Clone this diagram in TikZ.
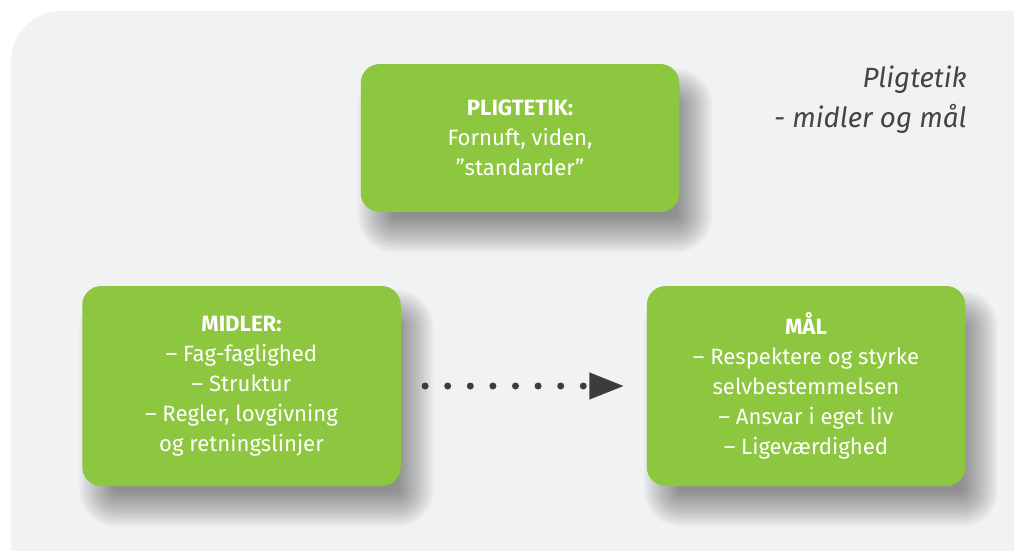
\documentclass[tikz,border=0pt]{standalone}
\usepackage{fontspec}
\setmainfont{Fira Sans}
\usetikzlibrary{positioning, arrows.meta, backgrounds}
\definecolor{boxgreen}{HTML}{8DC63F}
\definecolor{panelgray}{HTML}{F1F2F4}
\definecolor{dotgray}{HTML}{3C3C3C}
\definecolor{titlegray}{HTML}{444444}

\begin{document}
\begin{tikzpicture}[
		box/.style={fill=boxgreen, rounded corners=0.38cm, text=white, align=center,
			minimum width=6.37cm, inner sep=0pt, font=\fontsize{12.6}{17}\selectfont},
		shadowlayer/.style={fill=black, fill opacity=0.032},
		dotarrow/.style={dotgray, line width=0.14cm, line cap=round, dash pattern=on 0pt off 0.452cm,
			-{Triangle[length=0.7cm, width=0.5cm]}}
		]
		\useasboundingbox (0,0) rectangle (20.28,-11.02);

		\node[box, minimum height=2.96cm] (pligt) at (10.4,-2.76) {\textbf{PLIGTETIK:}\\Fornuft, viden,\\”standarder”};
		\node[box, minimum height=4cm] (midler) at (4.83,-7.72) {\textbf{MIDLER:}\\– Fag-faglighed\\– Struktur\\– Regler, lovgivning\\og retningslinjer};
		\node[box, minimum height=4cm] (maal) at (16.12,-7.72) {\textbf{MÅL}\\– Respektere og styrke\\selvbestemmelsen\\– Ansvar i eget liv\\– Ligeværdighed};

		\node[anchor=north east, align=right, inner sep=0pt, text=titlegray,
			font=\itshape\fontsize{15.8}{22.8}\selectfont] (title) at (19.34,-1.3) {Pligtetik\\- midler og mål};

		\draw[dotarrow, shorten <=0.48cm, shorten >=0.44cm] (midler.east) -- (maal.west);

		% panel and soft shadows behind the boxes
		\begin{scope}[on background layer]
			\fill[panelgray, rounded corners=1cm] (0.22,-0.22) rectangle (21.2,-12.2);
			\foreach \n in {pligt,midler,maal}{
				\foreach \k in {0,...,14}{
					\pgfmathsetmacro\sxa{-0.05+0.05*\k}
					\pgfmathsetmacro\sya{-0.8+0.05*\k}
					\pgfmathsetmacro\sxb{0.65-0.05*\k}
					\pgfmathsetmacro\syb{-0.1-0.05*\k}
					\pgfmathsetmacro\srad{0.73-0.05*\k}
					\path[shadowlayer, rounded corners=\srad cm]
						([xshift=\sxa cm, yshift=\sya cm]\n.south west) rectangle ([xshift=\sxb cm, yshift=\syb cm]\n.north east);
				}
			}
		\end{scope}
	\end{tikzpicture}
\end{document}
